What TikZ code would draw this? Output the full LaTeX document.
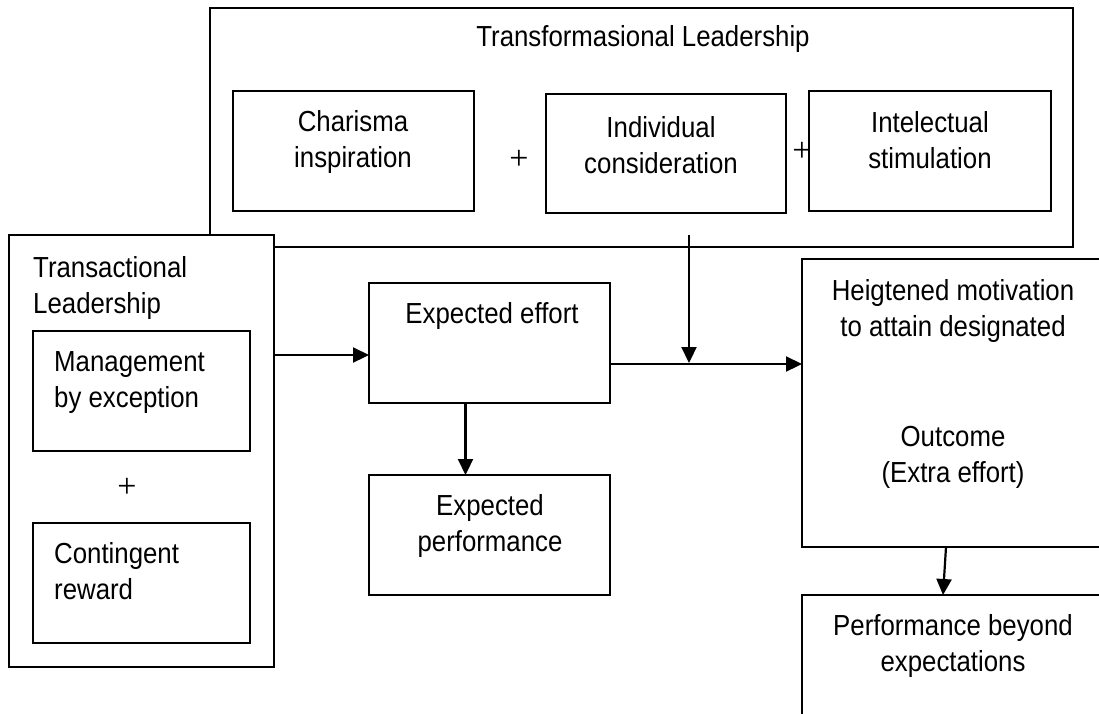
\documentclass[tikz,border=0pt]{standalone}
\usepackage{fontspec}
\setmainfont{Liberation Sans}[FakeStretch=0.89]
\newfontfamily\plusfont{Liberation Serif}
\usetikzlibrary{arrows.meta}
\tikzset{
  box/.style={draw, line width=2.2pt, fill=white, inner sep=0pt, outer sep=0pt, anchor=north west},
  txt/.style={inner sep=0pt, font=\fontsize{29}{36}\selectfont, align=center},
  ltxt/.style={inner sep=0pt, font=\fontsize{29}{36}\selectfont, align=left, anchor=north west},
  plussign/.style={inner sep=0pt, font=\plusfont\fontsize{34}{34}\selectfont},
  arr/.style={line width=2.2pt, -{Triangle[length=16pt,width=15pt]}}
}
\begin{document}
\begin{tikzpicture}[x=1pt,y=-1pt]
\useasboundingbox (0,0) rectangle (1099,713);
\clip (0,0) rectangle (1099,713);
\fill[white] (0,0) rectangle (1099,713);

% Transformational leadership
\node[box, minimum width=863pt, minimum height=239pt] (tf) at (210,8) {};
\node[txt, anchor=base] (tftitle) at (643,46) {Transformasional Leadership};
\node[box, minimum width=241pt, minimum height=120pt] (cha) at (233,91) {};
\node[txt, anchor=north] (chat) at (353,110) {Charisma\\inspiration};
\node[plussign] (p1) at (519,160) {+};
\node[box, minimum width=240pt, minimum height=119pt] (ind) at (546,94) {};
\node[txt, anchor=north] (indt) at (661,116) {Individual\\consideration};
\node[plussign] (p2) at (802,152) {+};
\node[box, minimum width=242pt, minimum height=120pt] (int) at (809,91) {};
\node[txt, anchor=north] (intt) at (930,111) {Intelectual\\stimulation};

% Transactional leadership
\node[box, minimum width=265pt, minimum height=432pt] (trans) at (9,235) {};
\node[ltxt] (transt) at (33,256) {Transactional\\Leadership};
\node[box, minimum width=217pt, minimum height=120pt] (man) at (33,331) {};
\node[ltxt] (mant) at (54,351) {Management\\by exception};
\node[plussign] (p3) at (127,488) {+};
\node[box, minimum width=217pt, minimum height=120pt] (con) at (33,523) {};
\node[ltxt] (cont) at (54,542) {Contingent\\reward};

% Expected effort / performance
\node[box, minimum width=241pt, minimum height=120pt] (ee) at (369,283) {};
\node[txt, anchor=base] (eet) at (492,323) {Expected effort};
\node[box, minimum width=241pt, minimum height=120pt] (ep) at (369,475) {};
\node[txt, anchor=north] (ept) at (490,494) {Expected\\performance};

% Outcome side
\node[box, minimum width=302pt, minimum height=288pt] (hm) at (802,259) {};
\node[txt, anchor=north] (hmt) at (953,279) {Heigtened motivation\\to attain designated};
\node[txt, anchor=north] (hmo) at (953,426) {Outcome\\(Extra effort)};
\node[box, minimum width=302pt, minimum height=140pt] (pb) at (802,595) {};
\node[txt, anchor=north] (pbt) at (953,614) {Performance beyond\\expectations};

% Connectors
\coordinate (m1) at ([yshift=-12pt]ee.west);
\draw[arr] (m1 -| trans.east) -- (m1);
\coordinate (m2) at ([yshift=-21pt]ee.east);
\draw[arr] (m2) -- (m2 -| hm.west);
\coordinate (tfdrop) at (689,235);
\coordinate (join) at (689,363);
\draw[arr] (tfdrop) -- (join);
\draw[arr] ([xshift=-24pt]ee.south) -- ([xshift=-24pt]ep.north);
\draw[arr] ([xshift=-7pt]hm.south) -- ([xshift=-10pt]pb.north);
\end{tikzpicture}
\end{document}
